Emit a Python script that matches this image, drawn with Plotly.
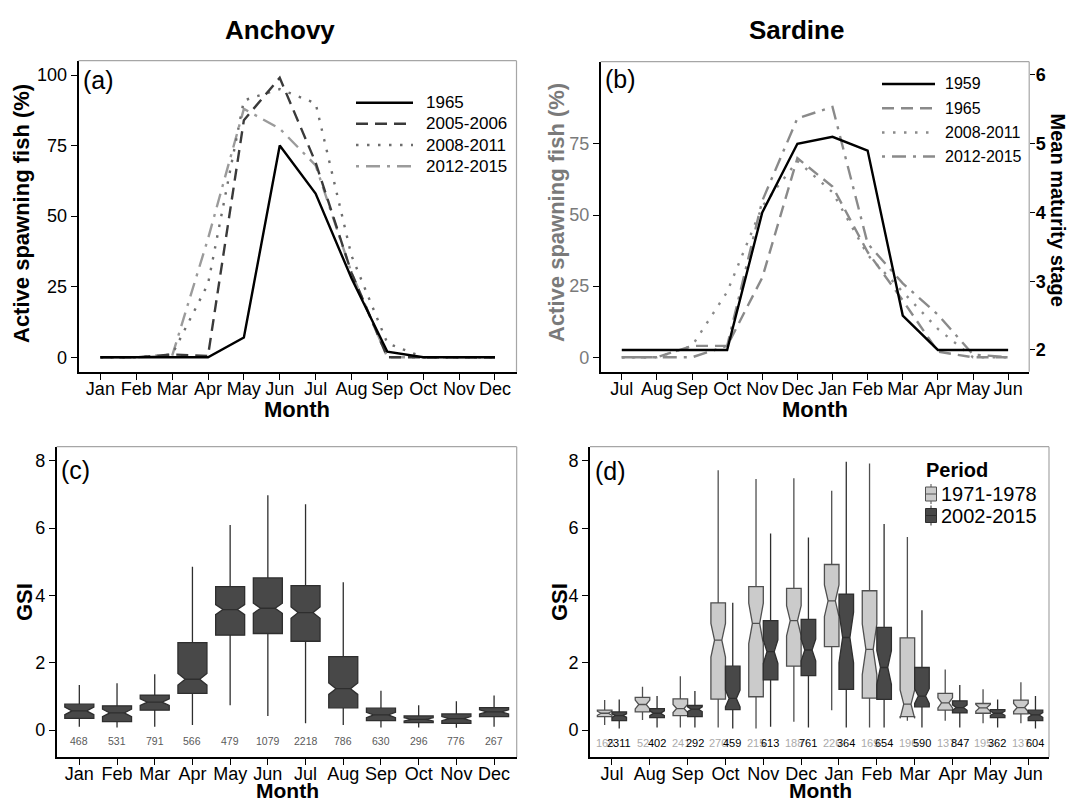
import plotly.graph_objects as go

W, H = 1069, 803
FONT = "Liberation Sans, Arial, Helvetica, sans-serif"

# ---------------- data ----------------
anchovy_months = ["Jan", "Feb", "Mar", "Apr", "May", "Jun", "Jul", "Aug", "Sep", "Oct", "Nov", "Dec"]
sardine_months = ["Jul", "Aug", "Sep", "Oct", "Nov", "Dec", "Jan", "Feb", "Mar", "Apr", "May", "Jun"]

# (a) Anchovy: active spawning fish (%)
anch_1965 = [0, 0, 0, 0, 7, 75, 58, 28, 2, 0, 0, 0]
anch_2005_2006 = [0, 0, 1, 0.5, 84, 99, 69, 30, 0, 0, 0, 0]
anch_2008_2011 = [0, 0, 1, 26, 91, 95, 90, 36, 5, 0, 0, 0]
anch_2012_2015 = [0, 0, 0.5, 42, 88, 81, 68, 30, 0, 0, 0, 0]

# (b) Sardine: active spawning fish (%) and mean maturity stage (1959)
sard_1959_maturity = [2.0, 2.0, 2.0, 2.0, 4.0, 5.0, 5.1, 4.9, 2.5, 2.0, 2.0, 2.0]
sard_1965 = [0, 0, 4, 4, 28, 70, 60, 37, 20, 2, 0, 0]
sard_2008_2011 = [0, 0, 4, 23, 53, 69, 58, 36, 23, 10, 0, 0]
sard_2012_2015 = [0, 0, 0, 4, 55, 84, 88, 40, 26, 15, 1, 0]

# (c) Anchovy GSI boxplots
anch_gsi_low = [0.10, 0.08, 0.10, 0.15, 0.74, 0.42, 0.20, 0.15, 0.08, 0.08, 0.07, 0.10]
anch_gsi_q1 = [0.35, 0.25, 0.59, 1.09, 2.82, 2.87, 2.64, 0.66, 0.28, 0.22, 0.20, 0.40]
anch_gsi_median = [0.57, 0.51, 0.83, 1.51, 3.58, 3.62, 3.49, 1.23, 0.45, 0.32, 0.34, 0.54]
anch_gsi_q3 = [0.77, 0.72, 1.04, 2.60, 4.26, 4.52, 4.29, 2.18, 0.65, 0.42, 0.48, 0.67]
anch_gsi_high = [1.34, 1.39, 1.66, 4.85, 6.09, 6.98, 6.71, 4.39, 1.17, 0.74, 0.86, 1.03]
anch_gsi_notch = [0.11, 0.11, 0.10, 0.17, 0.15, 0.15, 0.17, 0.17, 0.08, 0.05, 0.06, 0.06]
anch_n = [468, 531, 791, 566, 479, 1079, 2218, 786, 630, 296, 776, 267]

# (d) Sardine GSI boxplots, 1971-1978
s71_low = [0.15, 0.30, 0.08, 0.08, 0.05, 0.25, 0.59, 0.08, 0.28, 0.28, 0.20, 0.20]
s71_q1 = [0.40, 0.54, 0.43, 0.92, 0.99, 1.90, 2.48, 0.95, 0.40, 0.59, 0.50, 0.48]
s71_median = [0.50, 0.76, 0.64, 2.67, 3.17, 3.25, 3.84, 2.40, 0.77, 0.81, 0.66, 0.67]
s71_q3 = [0.59, 0.97, 0.93, 3.78, 4.26, 4.21, 4.92, 4.14, 2.74, 1.09, 0.79, 0.89]
s71_high = [0.89, 1.29, 1.60, 7.72, 7.46, 7.48, 7.11, 7.92, 5.74, 1.80, 1.21, 1.42]
s71_notch = [0.06, 0.13, 0.12, 0.50, 0.60, 0.45, 0.47, 0.75, 0.42, 0.15, 0.10, 0.12]
s71_n = [165, 52, 241, 270, 215, 188, 226, 169, 196, 137, 195, 137]

# (d) Sardine GSI boxplots, 2002-2015
s02_low = [0.05, 0.08, 0.08, 0.05, 0.10, 0.08, 0.08, 0.08, 0.08, 0.08, 0.08, 0.05]
s02_q1 = [0.28, 0.37, 0.40, 0.61, 1.49, 1.62, 1.21, 0.91, 0.69, 0.51, 0.37, 0.28]
s02_median = [0.43, 0.50, 0.62, 0.94, 2.33, 2.38, 2.75, 1.86, 1.01, 0.67, 0.50, 0.45]
s02_q3 = [0.54, 0.64, 0.73, 1.90, 3.25, 3.29, 4.04, 3.05, 1.86, 0.87, 0.61, 0.59]
s02_high = [0.91, 1.01, 1.16, 3.78, 5.84, 5.72, 7.97, 6.12, 3.56, 1.34, 0.91, 1.01]
s02_notch = [0.05, 0.07, 0.07, 0.25, 0.35, 0.32, 0.75, 0.50, 0.22, 0.08, 0.06, 0.07]
s02_n = [2311, 402, 292, 459, 613, 761, 364, 654, 590, 847, 362, 604]

# ---------------- styles ----------------
DASH = "12px,7px"
DOT = "2.5px,8.5px"
DASHDOT = "3px,7px,14px,7px"
LW = 2.4
BORDER = "#a6a6a6"


def fx(p):
    return p / W


def fy(p):
    return 1 - p / H


fig = go.Figure()

# ----- (a) -----
a_series = [
    ("2012-2015", anch_2012_2015, "#9b9b9b", DASHDOT),
    ("2008-2011", anch_2008_2011, "#6e6e6e", DOT),
    ("2005-2006", anch_2005_2006, "#3a3a3a", DASH),
    ("1965", anch_1965, "#000000", "solid"),
]
for name, vals, col, dash in a_series:
    fig.add_trace(go.Scatter(x=anchovy_months, y=vals, mode="lines", name=name,
                             line=dict(color=col, width=LW, dash=dash),
                             xaxis="x", yaxis="y", showlegend=False))

# ----- (b) -----
GRAYB = "#8a8a8a"
b_series = [
    ("1965", sard_1965, GRAYB, DASH),
    ("2008-2011", sard_2008_2011, GRAYB, DOT),
    ("2012-2015", sard_2012_2015, GRAYB, DASHDOT),
]
for name, vals, col, dash in b_series:
    fig.add_trace(go.Scatter(x=sardine_months, y=vals, mode="lines", name=name,
                             line=dict(color=col, width=LW, dash=dash),
                             xaxis="x2", yaxis="y2", showlegend=False))
fig.add_trace(go.Scatter(x=sardine_months, y=sard_1959_maturity, mode="lines", name="1959",
                         line=dict(color="black", width=LW),
                         xaxis="x2", yaxis="y5", showlegend=False))

# ----- (c) -----
DARK_FILL = "#484848"
DARK_LINE = "#2e2e2e"
LIGHT_FILL = "#cbcbcb"
LIGHT_LINE = "#505050"
BOX_LW = 1.3
fig.add_trace(go.Box(x=anchovy_months, q1=anch_gsi_q1, median=anch_gsi_median, q3=anch_gsi_q3,
                     lowerfence=anch_gsi_low, upperfence=anch_gsi_high, notchspan=anch_gsi_notch,
                     notched=True, boxpoints=False, whiskerwidth=0, fillcolor=DARK_FILL,
                     line=dict(color=DARK_LINE, width=BOX_LW), xaxis="x3", yaxis="y3",
                     offsetgroup="c", showlegend=False, hoverinfo="skip"))

# ----- (d) -----
fig.add_trace(go.Box(x=sardine_months, q1=s71_q1, median=s71_median, q3=s71_q3,
                     lowerfence=s71_low, upperfence=s71_high, notchspan=s71_notch,
                     notched=True, boxpoints=False, whiskerwidth=0, fillcolor=LIGHT_FILL,
                     line=dict(color=LIGHT_LINE, width=BOX_LW), xaxis="x4", yaxis="y4",
                     offsetgroup="p1", name="1971-1978", showlegend=False, hoverinfo="skip"))
fig.add_trace(go.Box(x=sardine_months, q1=s02_q1, median=s02_median, q3=s02_q3,
                     lowerfence=s02_low, upperfence=s02_high, notchspan=s02_notch,
                     notched=True, boxpoints=False, whiskerwidth=0, fillcolor=DARK_FILL,
                     line=dict(color=DARK_LINE, width=BOX_LW), xaxis="x4", yaxis="y4",
                     offsetgroup="p2", name="2002-2015", showlegend=False, hoverinfo="skip"))


# ---------------- axes ----------------
def xax(domain, anchor, cats, rng):
    return dict(domain=domain, anchor=anchor, type="category", categoryorder="array",
                categoryarray=cats, range=rng, showline=True, linecolor="black", linewidth=1.6,
                ticks="outside", ticklen=6, tickwidth=1.2, tickcolor="black",
                ticklabelstandoff=-6,
                tickfont=dict(family=FONT, size=18, color="black"),
                showgrid=False, zeroline=False, fixedrange=True)


def yax(domain, anchor, rng, tickvals, color="black", bold=False):
    tf = dict(family=FONT, size=18, color=color)
    if bold:
        tf["weight"] = "bold"
    return dict(domain=domain, anchor=anchor, range=rng, tickvals=tickvals,
                showline=True, linecolor="black", linewidth=1.6,
                ticks="outside", ticklen=6, tickwidth=1.2, tickcolor="black",
                tickfont=tf, showgrid=False, zeroline=False, fixedrange=True)


top_dom = [fy(371.7), fy(60.7)]
top_dom_b = [fy(371.7), fy(61.7)]
bot_dom = [fy(757.0), fy(446.7)]

fig.update_layout(
    xaxis=xax([fx(78.5), fx(516.5)], "y", anchovy_months, [-0.61, 11.6]),
    yaxis=yax(top_dom, "x", [-5.1, 105.07], [0, 25, 50, 75, 100]),
    xaxis2=xax([fx(600.7), fx(1029.2)], "y2", sardine_months, [-0.6, 11.6]),
    yaxis2=yax(top_dom_b, "x2", [-5.06, 103.9], [0, 25, 50, 75], color="#7a7a7a"),
    yaxis5=dict(overlaying="y2", anchor="x2", side="right", range=[1.684, 6.193],
                tickvals=[2, 3, 4, 5, 6], showline=False, ticks="outside", ticklen=5,
                tickwidth=1.2, tickcolor="black", ticklabelstandoff=-3,
                tickfont=dict(family=FONT, size=18, color="black", weight="bold"),
                showgrid=False, zeroline=False, fixedrange=True),
    xaxis3=xax([fx(56.7), fx(516.7)], "y3", anchovy_months, [-0.6, 11.6]),
    yaxis3=yax(bot_dom, "x3", [-0.8, 8.42], [0, 2, 4, 6, 8]),
    xaxis4=xax([fx(590.0), fx(1049.0)], "y4", sardine_months, [-0.58, 11.55]),
    yaxis4=yax(bot_dom, "x4", [-0.8, 8.42], [0, 2, 4, 6, 8]),
)

shapes = []
ann = []

# gray top/right panel borders
for xa_, ya_ in [("x", "y"), ("x2", "y2"), ("x3", "y3"), ("x4", "y4")]:
    shapes.append(dict(type="line", xref=f"{xa_} domain", yref=f"{ya_} domain",
                       x0=0, x1=1, y0=1, y1=1, line=dict(color=BORDER, width=1.2), layer="above"))
    shapes.append(dict(type="line", xref=f"{xa_} domain", yref=f"{ya_} domain",
                       x0=1, x1=1, y0=0, y1=1, line=dict(color=BORDER, width=1.2), layer="above"))


def label(x, y, s, size, color="black", bold=False, angle=0, xanchor="center", yanchor="middle"):
    ann.append(dict(x=fx(x), y=fy(y), xref="paper", yref="paper",
                    text=f"<b>{s}</b>" if bold else s, showarrow=False,
                    font=dict(family=FONT, size=size, color=color), textangle=angle,
                    xanchor=xanchor, yanchor=yanchor, borderpad=0))


# titles
label(280, 30, "Anchovy", 26, bold=True)
label(796, 30, "Sardine", 26, bold=True)

# panel tags
label(82, 80, "(a)", 25, xanchor="left")
label(604, 79, "(b)", 25, xanchor="left")
label(60, 470, "(c)", 25, xanchor="left")
label(594, 471, "(d)", 25, xanchor="left")

# axis titles
label(22, 214, "Active spawning fish (%)", 22, bold=True, angle=-90)
label(297, 409, "Month", 22, bold=True)
label(557, 213, "Active spawning fish (%)", 22, color="#7a7a7a", bold=True, angle=-90)
label(815, 409, "Month", 22, bold=True)
label(1057.5, 210, "Mean maturity stage", 20, bold=True, angle=90)
label(24, 602, "GSI", 22, bold=True, angle=-90)
label(287, 790, "Month", 21, bold=True)
label(559, 602, "GSI", 22, bold=True, angle=-90)
label(820, 790, "Month", 21, bold=True)

# legend (a)
a_leg = [("1965", "#000000", "solid"), ("2005-2006", "#3a3a3a", DASH),
         ("2008-2011", "#6e6e6e", DOT), ("2012-2015", "#9b9b9b", DASHDOT)]
a_rows = [102.7, 123.7, 145.0, 166.2]
for (name, col, dash), yy in zip(a_leg, a_rows):
    shapes.append(dict(type="line", xref="paper", yref="paper", x0=fx(356), x1=fx(413),
                       y0=fy(yy), y1=fy(yy), line=dict(color=col, width=LW, dash=dash)))
    label(425, yy, name, 17, xanchor="left")

# legend (b)
b_leg = [("1959", "#000000", "solid"), ("1965", GRAYB, DASH),
         ("2008-2011", GRAYB, DOT), ("2012-2015", GRAYB, DASHDOT)]
b_rows = [84.0, 108.3, 132.5, 156.5]
for (name, col, dash), yy in zip(b_leg, b_rows):
    shapes.append(dict(type="line", xref="paper", yref="paper", x0=fx(882), x1=fx(935),
                       y0=fy(yy), y1=fy(yy), line=dict(color=col, width=LW, dash=dash)))
    label(944, yy, name, 16, xanchor="left")

# legend (d)
label(925, 470, "Period", 20, bold=True, xanchor="left")
for (name, fill, lc), yy in zip([("1971-1978", LIGHT_FILL, LIGHT_LINE), ("2002-2015", DARK_FILL, DARK_LINE)],
                                [494.0, 515.5]):
    shapes.append(dict(type="line", xref="paper", yref="paper", x0=fx(931), x1=fx(931),
                       y0=fy(yy - 10), y1=fy(yy + 10), line=dict(color=lc, width=1)))
    shapes.append(dict(type="rect", xref="paper", yref="paper", x0=fx(925.5), x1=fx(936.5),
                       y0=fy(yy - 7), y1=fy(yy + 7), fillcolor=fill, line=dict(color=lc, width=1)))
    shapes.append(dict(type="line", xref="paper", yref="paper", x0=fx(925.5), x1=fx(936.5),
                       y0=fy(yy), y1=fy(yy), line=dict(color=lc, width=1)))
    label(940, yy, name, 20, xanchor="left")

# sample sizes (c)
for m, n in zip(anchovy_months, anch_n):
    ann.append(dict(x=m, y=-0.33, xref="x3", yref="y3", text=str(n), showarrow=False,
                    font=dict(family=FONT, size=10.5, color="#5a5a5a")))
# sample sizes (d)
for m, n in zip(sardine_months, s71_n):
    ann.append(dict(x=m, y=-0.38, xref="x4", yref="y4", text=str(n), showarrow=False, xshift=-7,
                    font=dict(family=FONT, size=11, color="#aaaaaa")))
for m, n in zip(sardine_months, s02_n):
    ann.append(dict(x=m, y=-0.38, xref="x4", yref="y4", text=str(n), showarrow=False, xshift=7,
                    font=dict(family=FONT, size=11, color="#000000")))

fig.update_layout(
    width=W, height=H, margin=dict(l=0, r=0, t=0, b=0),
    paper_bgcolor="white", plot_bgcolor="white", showlegend=False,
    boxmode="group", boxgap=0.23, boxgroupgap=0.0,
    shapes=shapes, annotations=ann,
    font=dict(family=FONT, color="black"),
)

fig.write_html("out.html", post_script="document.body.style.margin='0';",
               config={"displayModeBar": False})
